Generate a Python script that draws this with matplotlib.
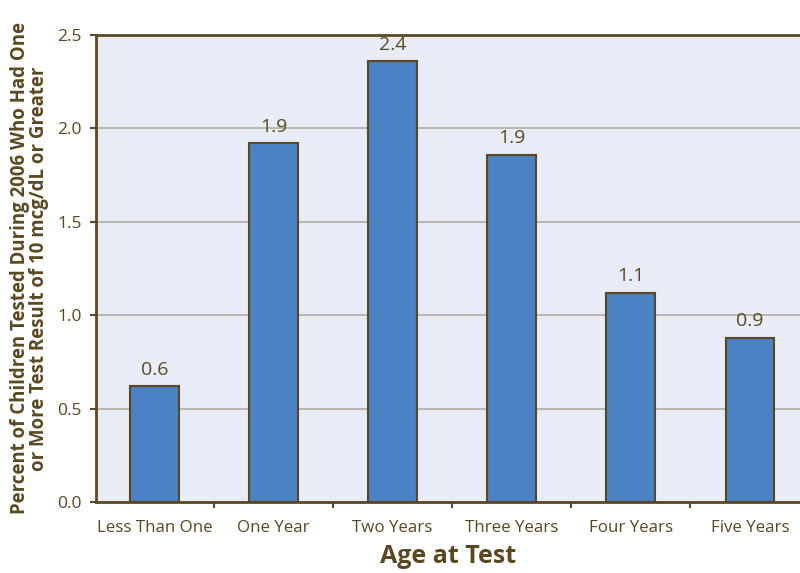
import matplotlib
matplotlib.use("Agg")
import matplotlib.pyplot as plt

# data
ages = ["Less Than One", "One Year", "Two Years", "Three Years", "Four Years", "Five Years"]
percent = [0.62, 1.92, 2.36, 1.86, 1.12, 0.88]
bar_labels = ["0.6", "1.9", "2.4", "1.9", "1.1", "0.9"]
yticks = [0.0, 0.5, 1.0, 1.5, 2.0, 2.5]

brown = "#5b4820"
bar_blue = "#4a82c3"
bg = "#e8ecf6"

plt.rcParams['font.family'] = ['Open Sans', 'DejaVu Sans']

fig = plt.figure(figsize=(8, 5.73), dpi=100)
ax = fig.add_axes([0.12, 0.124, 0.88, 0.815])
ax.set_facecolor(bg)

x = list(range(len(ages)))
ax.bar(x, percent, width=0.41, color=bar_blue, edgecolor=brown, linewidth=1.5, zorder=3)

for xi, v, lab in zip(x, percent, bar_labels):
    ax.text(xi, v + 0.04, lab, ha="center", va="bottom", fontsize=14, color=brown)

ax.set_xlim(-0.49, 5.42)
ax.set_ylim(0, 2.5)
ax.set_yticks(yticks)
ax.set_yticklabels([f"{t:.1f}" for t in yticks], fontsize=12.5, color=brown)
ax.yaxis.grid(True, color="#b3ada2", linewidth=1.2, zorder=0)

ax.set_xticks(x)
ax.set_xticklabels(ages, fontsize=12.2, color=brown)
ax.tick_params(axis="x", which="major", length=0, pad=13)
ax.set_xticks([i + 0.5 for i in range(len(ages) - 1)], minor=True)
ax.tick_params(axis="x", which="minor", length=4, width=1.5, color=brown, direction="out")
ax.tick_params(axis="y", length=4, width=1.5, color=brown, pad=6)

for side in ["left", "bottom", "top"]:
    ax.spines[side].set_color(brown)
    ax.spines[side].set_linewidth(2)
ax.spines["right"].set_visible(False)

ax.set_xlabel("Age at Test", fontsize=18, fontweight="bold", color=brown, labelpad=6)
ax.set_ylabel("Percent of Children Tested During 2006 Who Had One\nor More Test Result of 10 mcg/dL or Greater",
              fontsize=13.4, fontweight="bold", color=brown, linespacing=0.95, labelpad=6)

fig.savefig("out.png", dpi=100)
